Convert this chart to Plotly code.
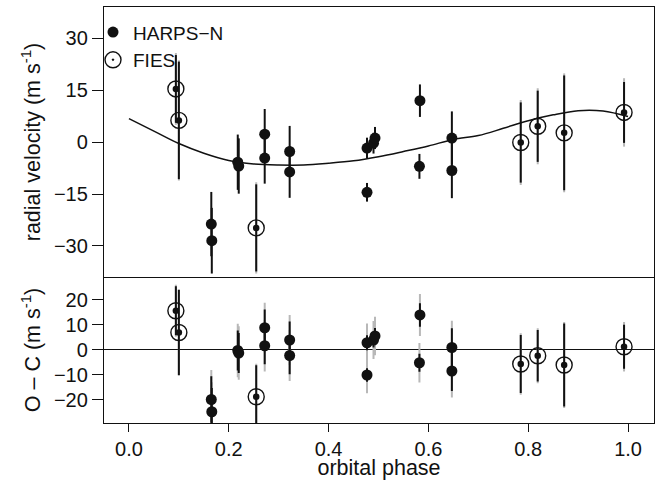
import plotly.graph_objects as go
from plotly.subplots import make_subplots

# ---------------- data ----------------
harps_phase = [0.165, 0.166, 0.218, 0.220, 0.272, 0.272, 0.322, 0.322,
               0.477, 0.490, 0.493, 0.477, 0.583, 0.582, 0.647, 0.647]
harps_rv = [-23.7, -28.5, -5.8, -6.9, 2.3, -4.6, -2.7, -8.6,
            -1.7, -0.3, 1.2, -14.5, 12.0, -7.0, 1.2, -8.2]
harps_err = [9.3, 9.5, 8.0, 8.0, 7.3, 7.4, 7.4, 7.5,
             3.0, 3.0, 3.2, 2.7, 4.7, 3.6, 7.7, 8.0]
harps_oc = [-19.8, -24.7, -0.2, -1.2, 8.9, 1.7, 4.0, -2.2,
            2.9, 4.0, 5.6, -10.0, 14.0, -5.1, 1.0, -8.4]
harps_err_jit = [11.8, 11.8, 10.7, 10.7, 10.0, 10.3, 10.0, 10.2,
                 7.7, 7.6, 7.7, 7.3, 8.4, 7.9, 10.7, 10.6]

fies_phase = [0.094, 0.100, 0.255, 0.785, 0.819, 0.872, 0.992]
fies_rv = [15.4, 6.3, -24.8, -0.1, 4.6, 2.7, 8.6]
fies_err = [9.8, 17.0, 12.6, 11.6, 10.3, 16.6, 8.8]
fies_oc = [15.7, 7.0, -18.7, -5.6, -2.3, -6.0, 1.3]
fies_err_jit = [10.4, 17.4, 13.2, 12.3, 11.0, 17.2, 9.9]

model_phase = [0.00, 0.05, 0.10, 0.15, 0.20, 0.25, 0.30, 0.35, 0.40, 0.45, 0.50,
               0.55, 0.60, 0.65, 0.70, 0.75, 0.80, 0.85, 0.90, 0.95, 1.00]
model_rv = [6.8, 3.2, -0.4, -3.2, -5.3, -6.3, -6.6, -6.6, -6.1, -5.4, -4.2,
            -2.7, -1.1, 0.8, 1.9, 4.0, 6.2, 7.9, 9.1, 9.0, 7.4]

x_ticks = [0.0, 0.2, 0.4, 0.6, 0.8, 1.0]
x_ticktext = ["0.0", "0.2", "0.4", "0.6", "0.8", "1.0"]
rv_ticks = [-30, -15, 0, 15, 30]
oc_ticks = [-20, -10, 0, 10, 20]

# ---------------- styles ----------------
FONT = "Liberation Sans, Arial, Helvetica, sans-serif"
BLACK = "#111111"
GRAY = "#b8b8b8"
FS = 20
FT = 21.5

fig = make_subplots(rows=2, cols=1, shared_xaxes=True, vertical_spacing=0,
                    row_heights=[0.649, 0.351])


def err_trace(x, y, e, color, row, col=1):
    fig.add_trace(go.Scatter(
        x=x, y=y, mode="markers",
        marker=dict(size=1, color="rgba(0,0,0,0)"),
        error_y=dict(type="data", array=e, visible=True, color=color,
                     thickness=2, width=0),
        showlegend=False, hoverinfo="skip"), row=row, col=col)


# ---- top panel ----
err_trace(fies_phase, fies_rv, fies_err_jit, GRAY, 1)
err_trace(fies_phase, fies_rv, fies_err, BLACK, 1)
err_trace(harps_phase, harps_rv, harps_err, BLACK, 1)

fig.add_trace(go.Scatter(x=model_phase, y=model_rv, mode="lines",
                         line=dict(color=BLACK, width=1.5, shape="spline", smoothing=1.0),
                         showlegend=False, hoverinfo="skip"), row=1, col=1)

fig.add_trace(go.Scatter(x=harps_phase, y=harps_rv, mode="markers", name="HARPS\u2212N",
                         marker=dict(symbol="circle", size=11, color=BLACK,
                                     line=dict(width=0)),
                         legendgroup="h"), row=1, col=1)
fig.add_trace(go.Scatter(x=fies_phase, y=fies_rv, mode="markers", name="FIES",
                         marker=dict(symbol="circle-open-dot", size=16, color=BLACK,
                                     line=dict(width=1.4, color=BLACK)),
                         legendgroup="f"), row=1, col=1)
fig.add_trace(go.Scatter(x=fies_phase, y=fies_rv, mode="markers",
                         marker=dict(symbol="circle", size=6.5, color=BLACK),
                         showlegend=False, hoverinfo="skip"), row=1, col=1)

# ---- bottom panel ----
err_trace(fies_phase, fies_oc, fies_err_jit, GRAY, 2)
err_trace(harps_phase, harps_oc, harps_err_jit, GRAY, 2)
err_trace(fies_phase, fies_oc, fies_err, BLACK, 2)
err_trace(harps_phase, harps_oc, harps_err, BLACK, 2)

fig.add_trace(go.Scatter(x=harps_phase, y=harps_oc, mode="markers",
                         marker=dict(symbol="circle", size=11, color=BLACK, line=dict(width=0)),
                         showlegend=False, legendgroup="h"), row=2, col=1)
fig.add_trace(go.Scatter(x=fies_phase, y=fies_oc, mode="markers",
                         marker=dict(symbol="circle-open", size=16, color=BLACK,
                                     line=dict(width=1.4, color=BLACK)),
                         showlegend=False, legendgroup="f"), row=2, col=1)
fig.add_trace(go.Scatter(x=fies_phase, y=fies_oc, mode="markers",
                         marker=dict(symbol="circle", size=6.5, color=BLACK),
                         showlegend=False, hoverinfo="skip"), row=2, col=1)

axis_common = dict(showgrid=False, showline=True, linecolor=BLACK, automargin=False,
                   linewidth=1.3, tickcolor=BLACK, tickwidth=1.2,
                   tickfont=dict(family=FONT, size=FS, color=BLACK))

fig.update_xaxes(range=[-0.05, 1.052], zeroline=False, **axis_common)
fig.update_xaxes(showticklabels=False, ticks="", mirror=True, row=1, col=1)
fig.update_xaxes(tickvals=x_ticks, ticktext=x_ticktext, ticks="outside", ticklen=8,
                 mirror=False,
                 title=dict(text="orbital phase", font=dict(family=FONT, size=FT, color=BLACK),
                            standoff=6),
                 row=2, col=1)

fig.update_yaxes(range=[-39.0, 39.1], tickvals=rv_ticks, ticks="outside", ticklen=11,
                 zeroline=False, mirror=True,
                 title=dict(text="radial velocity (m s<sup>-1</sup>)",
                            font=dict(family=FONT, size=FT, color=BLACK), standoff=7),
                 row=1, col=1, **axis_common)
fig.update_yaxes(range=[-29.2, 29.2], tickvals=oc_ticks, ticks="outside", ticklen=11,
                 zeroline=True, zerolinecolor=BLACK, zerolinewidth=1.2, mirror=True,
                 title=dict(text="O \u2013 C (m s<sup>-1</sup>)",
                            font=dict(family=FONT, size=FT, color=BLACK), standoff=7),
                 row=2, col=1, **axis_common)

fig.update_layout(
    width=662, height=480,
    margin=dict(l=104, r=8, t=7, b=57, autoexpand=False),
    paper_bgcolor="white", plot_bgcolor="white",
    font=dict(family=FONT, size=FS, color=BLACK),
    legend=dict(x=-0.02, y=0.985, xanchor="left", yanchor="top",
                bgcolor="rgba(0,0,0,0)", borderwidth=0, tracegroupgap=0,
                font=dict(family=FONT, size=19, color=BLACK)),
    showlegend=True,
)

fig.write_html("out.html", config={"displayModeBar": False},
               post_script="document.body.style.margin='0';document.body.style.overflow='hidden';")
